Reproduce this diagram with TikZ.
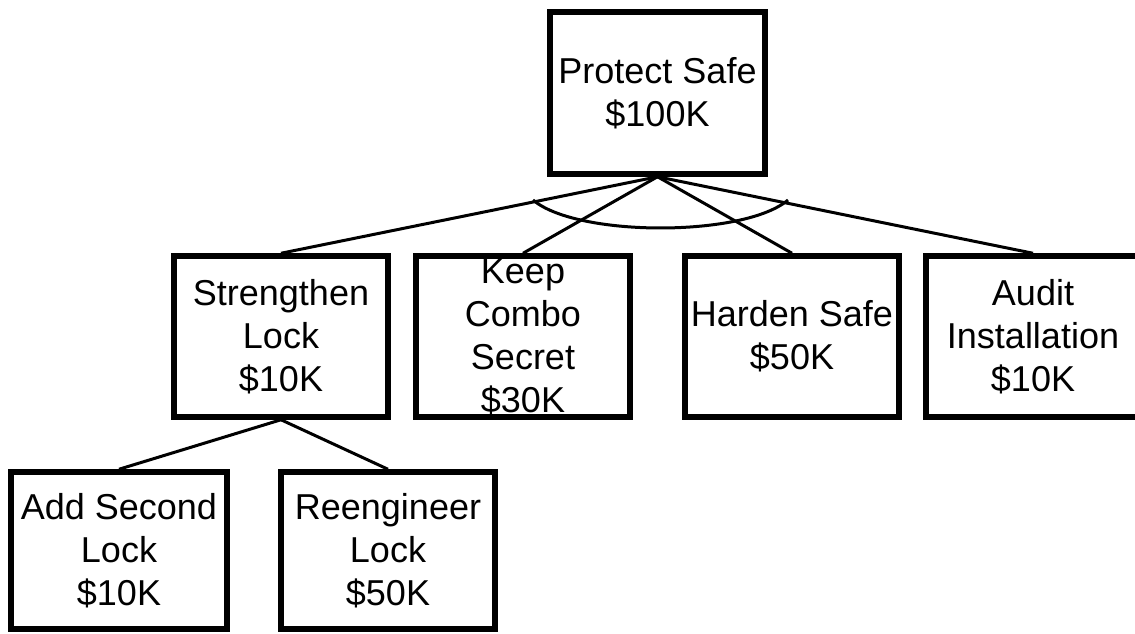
\documentclass[tikz,border=0pt]{standalone}
\usepackage{fontspec}
\setmainfont{Liberation Sans}
\tikzset{
  box/.style={draw=black, line width=5.5pt, rectangle, inner sep=0pt, fill=white},
  lbl/.style={inner sep=0pt, align=center, font=\fontsize{36}{43}\selectfont},
  conn/.style={draw=black, line width=3pt}
}
\begin{document}
\begin{tikzpicture}[x=1pt,y=-1pt]
\useasboundingbox (0,0) rectangle (1135,633);
\node[box, minimum width=215pt, minimum height=162pt] (top) at (657.5,93) {};
\node[box, minimum width=214pt, minimum height=161pt] (str) at (281,336.5) {};
\node[box, minimum width=214pt, minimum height=161pt] (keep) at (523,336.5) {};
\node[box, minimum width=214pt, minimum height=161pt] (hard) at (792,336.5) {};
\node[box, minimum width=214pt, minimum height=161pt] (aud) at (1033,336.5) {};
\node[box, minimum width=216pt, minimum height=157pt] (add) at (119,550.5) {};
\node[box, minimum width=214pt, minimum height=157pt] (reng) at (388,550.5) {};
\draw[conn] (top.south) -- (str.north);
\draw[conn] (top.south) -- (keep.north);
\draw[conn] (top.south) -- (hard.north);
\draw[conn] (top.south) -- (aud.north);
\draw[conn] (str.south) -- (add.north);
\draw[conn] (str.south) -- (reng.north);
\coordinate (arcL) at (533,200);
\coordinate (arcR) at (788,200);
\draw[conn] (arcL) .. controls (577,237.3) and (744,237.3) .. (arcR);
\node[lbl] at (top) {Protect Safe\\\$100K};
\node[lbl] at (str) {Strengthen\\Lock\\\$10K};
\node[lbl] at (keep) {Keep\\Combo\\Secret\\\$30K};
\node[lbl] at (hard) {Harden Safe\\\$50K};
\node[lbl] at (aud) {Audit\\Installation\\\$10K};
\node[lbl] at (add) {Add Second\\Lock\\\$10K};
\node[lbl] at (reng) {Reengineer\\Lock\\\$50K};
\end{tikzpicture}
\end{document}
